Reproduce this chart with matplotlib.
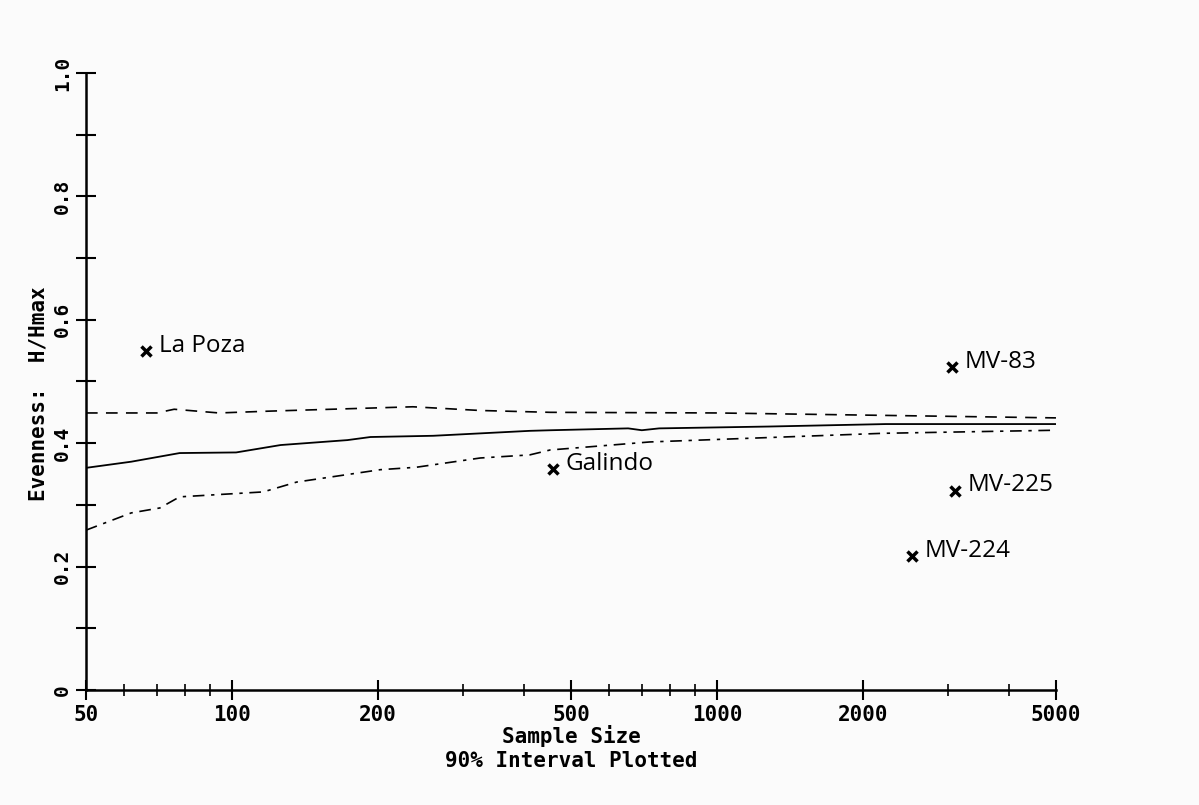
import matplotlib.pyplot as plt
from matplotlib.ticker import FixedLocator, NullFormatter

# mean evenness curve (rarefaction)
mean_x = [50, 62, 78, 102, 126, 173, 193, 260, 411, 455, 656, 700, 760, 1280, 2230, 5000]
mean_y = [0.360, 0.370, 0.384, 0.385, 0.397, 0.405, 0.410, 0.412, 0.420, 0.421, 0.424, 0.421, 0.424, 0.427, 0.431, 0.431]

# upper 90% bound
upper_x = [50, 70, 76, 94, 120, 236, 325, 453, 1000, 1830, 5000]
upper_y = [0.449, 0.449, 0.455, 0.449, 0.452, 0.459, 0.453, 0.450, 0.449, 0.446, 0.441]

# lower 90% bound
lower_x = [50, 62, 71, 78, 116, 136, 202, 240, 325, 411, 453, 727, 1369, 2197, 5000]
lower_y = [0.259, 0.287, 0.295, 0.313, 0.321, 0.337, 0.357, 0.361, 0.376, 0.381, 0.389, 0.402, 0.410, 0.416, 0.421]

# observed assemblages
site_names = ["La Poza", "Galindo", "MV-83", "MV-225", "MV-224"]
site_n = [66.5, 459, 3050, 3100, 2520]
site_even = [0.549, 0.358, 0.523, 0.323, 0.217]

x_major = [50, 100, 200, 500, 1000, 2000, 5000]
x_minor = [60, 70, 80, 90, 300, 400, 600, 700, 800, 900, 3000, 4000]

mono = dict(family="DejaVu Sans Mono", weight="bold")
bg = "#fbfbfb"

fig = plt.figure(figsize=(11.99, 8.05), dpi=100, facecolor=bg)
ax = fig.add_axes([0.0717, 0.1429, 0.809, 0.7664], facecolor=bg)

ax.plot(mean_x, mean_y, color="black", lw=1.3)
ax.plot(upper_x, upper_y, color="black", lw=1.2, dashes=(7, 5))
ax.plot(lower_x, lower_y, color="black", lw=1.2, dashes=(7, 4, 2, 4))

ax.plot(site_n, site_even, "x", color="black", ms=7, mew=2.5, ls="none")
for name, n, e in zip(site_names, site_n, site_even):
    ax.annotate(name, (n, e), xytext=(9, 4), textcoords="offset points",
                fontsize=17.5, family="Open Sans", va="center")

ax.set_xscale("log")
ax.set_xlim(50, 5000)
ax.set_ylim(0, 1.0)

ax.xaxis.set_major_locator(FixedLocator(x_major))
ax.xaxis.set_minor_locator(FixedLocator(x_minor))
ax.xaxis.set_minor_formatter(NullFormatter())
ax.set_xticklabels([str(v) for v in x_major], fontsize=15, **mono)

ax.set_yticks([0, 0.2, 0.4, 0.6, 0.8, 1.0])
ax.set_yticks([0.1, 0.3, 0.5, 0.7, 0.9], minor=True)
ax.set_yticklabels(["0", "0.2", "0.4", "0.6", "0.8", "1.0"], fontsize=14,
                   rotation=90, va="center", **mono)

ax.tick_params(axis="x", which="major", direction="inout", length=14, width=1.5, pad=4)
ax.tick_params(axis="x", which="minor", direction="inout", length=8, width=1.2)
ax.tick_params(axis="y", which="both", direction="inout", length=14, width=1.5, pad=3)

for side in ["top", "right"]:
    ax.spines[side].set_visible(False)
for side in ["left", "bottom"]:
    ax.spines[side].set_linewidth(1.8)

ax.set_ylabel("Evenness:  H/Hmax", fontsize=15, **mono)
ax.yaxis.set_label_coords(-0.039, 0.48)
ax.set_xlabel("Sample Size\n90% Interval Plotted", fontsize=15, linespacing=1.25,
              labelpad=0, **mono)

fig.savefig("out.png", dpi=100, facecolor=bg)
